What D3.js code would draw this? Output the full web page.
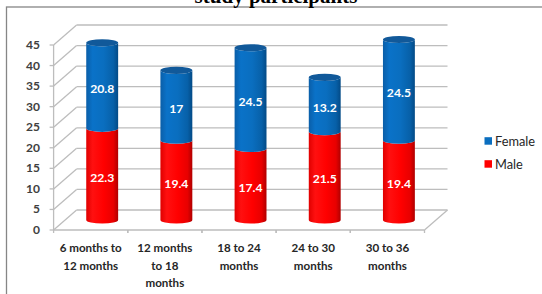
<!DOCTYPE html>
<html>
<head>
<meta charset="utf-8">
<script src="https://cdn.jsdelivr.net/npm/d3@7"></script>
<style>
  body { margin: 0; background: #fff; }
  svg { display: block; }
</style>
</head>
<body>
<script>
const categories = [
  ["6 months to", "12 months"],
  ["12 months", "to 18", "months"],
  ["18 to 24", "months"],
  ["24 to 30", "months"],
  ["30 to 36", "months"]
];
const male = [22.3, 19.4, 17.4, 21.5, 19.4];
const female = [20.8, 17, 24.5, 13.2, 24.5];
const yTicks = [0, 5, 10, 15, 20, 25, 30, 35, 40, 45];
const seriesNames = ["Female", "Male"];

const W = 542, H = 294;
const depth = { dx: 23, dy: -20 };

const svg = d3.select("body").append("svg")
  .attr("width", W)
  .attr("height", H);

const defs = svg.append("defs");
function grad(id, stops) {
  const g = defs.append("linearGradient").attr("id", id)
    .attr("x1", "0%").attr("x2", "100%").attr("y1", "0%").attr("y2", "0%");
  stops.forEach(s => g.append("stop").attr("offset", s[0]).attr("stop-color", s[1]));
}
grad("redGrad", [["0%", "#e00000"], ["20%", "#ff1010"], ["55%", "#ff0000"], ["85%", "#e80000"], ["100%", "#b00000"]]);
grad("blueGrad", [["0%", "#0a5ea8"], ["20%", "#0a72c8"], ["55%", "#0a6ebf"], ["85%", "#0760a8"], ["100%", "#034a86"]]);

// chart border
svg.append("rect")
  .attr("x", 6.5).attr("y", 7)
  .attr("width", 560).attr("height", 320)
  .attr("fill", "none")
  .attr("stroke", "#868686")
  .attr("stroke-width", 1.3);

// title (cut off at the top in the original too)
svg.append("text")
  .attr("x", 276).attr("y", 3)
  .attr("text-anchor", "middle")
  .attr("font-family", "Liberation Serif, Times New Roman, serif")
  .attr("font-weight", "bold")
  .attr("font-size", 21)
  .attr("fill", "#000")
  .text("study participants");

const x = d3.scaleBand()
  .domain(categories.map((d, i) => i))
  .range([53.6, 424.5]);
const y = d3.scaleLinear().domain([0, 45]).range([230, 45]);

const x0 = x.range()[0], x1 = x.range()[1];
const grid = svg.append("g").attr("stroke", "#bdbdbd").attr("stroke-width", 1.3).attr("fill", "none");

// back wall lines and left wall diagonals
yTicks.forEach(t => {
  grid.append("line")
    .attr("x1", x0 + depth.dx).attr("x2", x1 + depth.dx)
    .attr("y1", y(t) + depth.dy).attr("y2", y(t) + depth.dy);
  grid.append("line")
    .attr("x1", x0).attr("x2", x0 + depth.dx)
    .attr("y1", y(t)).attr("y2", y(t) + depth.dy);
});
// floor
grid.append("line")
  .attr("x1", x0).attr("x2", x1).attr("y1", y(0)).attr("y2", y(0));
grid.append("line")
  .attr("x1", x1).attr("x2", x1 + depth.dx).attr("y1", y(0)).attr("y2", y(0) + depth.dy);
// front axis
grid.append("line")
  .attr("x1", x0).attr("x2", x0).attr("y1", y(45)).attr("y2", y(0));

// y axis ticks + labels
const yAxis = svg.append("g");
yTicks.forEach(t => {
  yAxis.append("line")
    .attr("x1", x0 - 4).attr("x2", x0)
    .attr("y1", y(t)).attr("y2", y(t))
    .attr("stroke", "#bdbdbd").attr("stroke-width", 1.3);
  yAxis.append("text")
    .attr("x", 40).attr("y", y(t) + 4)
    .attr("text-anchor", "end")
    .attr("font-family", "Lato, Open Sans, sans-serif")
    .attr("font-weight", "bold")
    .attr("font-size", 12)
    .attr("fill", "#404040")
    .text(t);
});

// category ticks
categories.forEach((c, i) => {
  [x(i), x(i) + x.bandwidth()].forEach(px => {
    svg.append("line")
      .attr("x1", px).attr("x2", px)
      .attr("y1", y(0)).attr("y2", y(0) + 3)
      .attr("stroke", "#bdbdbd").attr("stroke-width", 1.3);
  });
  const t = svg.append("text")
    .attr("text-anchor", "middle")
    .attr("font-family", "Lato, Open Sans, sans-serif")
    .attr("font-weight", "bold")
    .attr("font-size", 11.6)
    .attr("fill", "#262626");
  c.forEach((line, k) => {
    t.append("tspan")
      .attr("x", x(i) + x.bandwidth() / 2)
      .attr("y", 252 + k * 17.5)
      .text(line);
  });
});

// cylinders
const cw = x.bandwidth() * 0.43;
const rx = cw / 2, ry = 3.6;
const cx = i => x(i) + x.bandwidth() / 2 + depth.dx / 2;
const cy = v => y(v) + depth.dy / 2;

function segPath(c, yb, yt) {
  return `M${c - rx},${yt} L${c - rx},${yb} A${rx},${ry} 0 0,0 ${c + rx},${yb} L${c + rx},${yt} A${rx},${ry} 0 0,1 ${c - rx},${yt} Z`;
}

const bars = svg.append("g");
categories.forEach((c, i) => {
  const cc = cx(i);
  const yb = cy(0), ym = cy(male[i]), yt = cy(male[i] + female[i]);
  bars.append("path").attr("d", segPath(cc, yb, ym)).attr("fill", "url(#redGrad)");
  bars.append("path").attr("d", segPath(cc, ym, yt)).attr("fill", "url(#blueGrad)");
  bars.append("ellipse")
    .attr("cx", cc).attr("cy", yt).attr("rx", rx).attr("ry", ry)
    .attr("fill", "#11599a");

  [[male[i], (yb + ym) / 2], [female[i], (ym + yt) / 2]].forEach(([v, my]) => {
    bars.append("text")
      .attr("x", cc).attr("y", my + ry + 4)
      .attr("text-anchor", "middle")
      .attr("font-family", "Lato, Open Sans, sans-serif")
      .attr("font-weight", "bold")
      .attr("font-size", 12.2)
      .attr("fill", "#fff")
      .text(v);
  });
});

// legend
const legendColors = ["#0a6ebf", "#ff0000"];
seriesNames.forEach((s, k) => {
  const ly = 141 + k * 23;
  svg.append("rect")
    .attr("x", 484.5).attr("y", ly - 3.8)
    .attr("width", 7.5).attr("height", 7.5)
    .attr("fill", legendColors[k]);
  svg.append("text")
    .attr("x", 495).attr("y", ly + 4.5)
    .attr("font-family", "Lato, Open Sans, sans-serif")
    .attr("font-size", 12.8)
    .attr("fill", "#262626")
    .text(s);
});
</script>
</body>
</html>
